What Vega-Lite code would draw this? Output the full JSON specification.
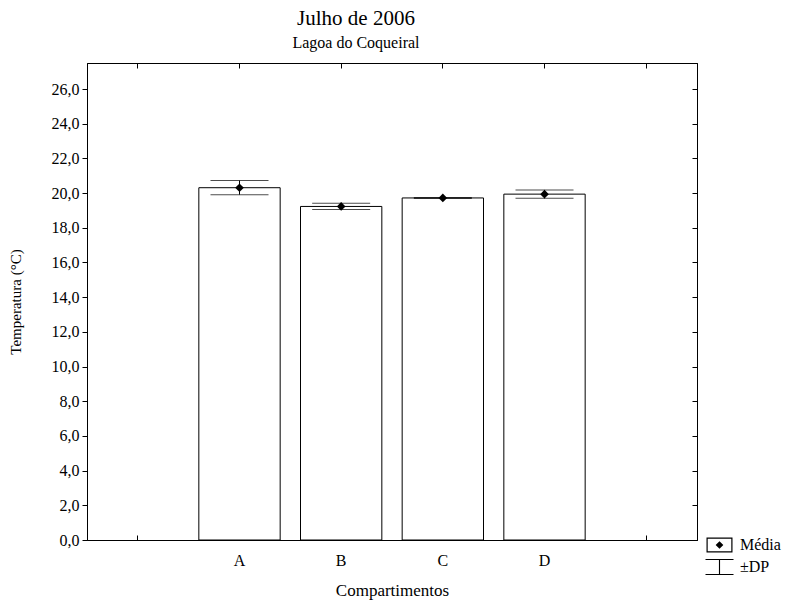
{
  "$schema": "https://vega.github.io/schema/vega-lite/v6.json",
  "width": 610,
  "height": 477,
  "autosize": {"type": "none"},
  "padding": {"left": 87, "top": 63, "right": 92, "bottom": 67},
  "background": "white",
  "config": {
    "font": "Liberation Serif",
    "view": {"stroke": "black", "strokeWidth": 1},
    "axis": {
      "grid": false,
      "domainColor": "black",
      "tickColor": "black",
      "labelColor": "black",
      "titleColor": "black",
      "labelFont": "Liberation Serif",
      "titleFont": "Liberation Serif",
      "labelFontSize": 16,
      "titleFontSize": 16,
      "titleFontWeight": "normal"
    }
  },
  "title": {
    "text": "Julho de 2006",
    "subtitle": "Lagoa do Coqueiral",
    "font": "Liberation Serif",
    "subtitleFont": "Liberation Serif",
    "fontSize": 21,
    "subtitleFontSize": 16,
    "fontWeight": "normal",
    "color": "black",
    "subtitleColor": "black",
    "anchor": "middle",
    "dx": -36,
    "offset": 12,
    "subtitlePadding": 6
  },
  "datasets": {
    "temperatura": [
      {"compartimento": "A", "media": 20.31, "inferior": 19.91, "superior": 20.72},
      {"compartimento": "B", "media": 19.23, "inferior": 19.05, "superior": 19.41},
      {"compartimento": "C", "media": 19.72, "inferior": 19.69, "superior": 19.75},
      {"compartimento": "D", "media": 19.94, "inferior": 19.70, "superior": 20.18}
    ],
    "legenda": [
      {"item": "Média"},
      {"item": "±DP"}
    ]
  },
  "resolve": {"axis": {"x": "independent", "y": "independent"}},
  "layer": [
    {
      "data": {"name": "temperatura"},
      "mark": {"type": "bar", "fill": "white", "stroke": "black", "strokeWidth": 1},
      "encoding": {
        "x": {
          "field": "compartimento",
          "type": "nominal",
          "scale": {"domain": ["v0", "A", "B", "C", "D", "v5"], "paddingInner": 0.2, "paddingOuter": 0.1},
          "axis": {
            "orient": "bottom",
            "title": "Compartimentos",
            "labelAngle": 0,
            "tickSize": -5,
            "labelPadding": 17,
            "titlePadding": 14,
            "titleFontSize": 17,
            "labelExpr": "indexof(['A','B','C','D'], datum.value) >= 0 ? datum.value : ''"
          }
        },
        "y": {
          "field": "media",
          "type": "quantitative",
          "scale": {"domain": [0, 27.5], "nice": false, "zero": true},
          "axis": {
            "orient": "left",
            "title": "Temperatura (°C)",
            "titleFontSize": 15,
            "values": [0, 2, 4, 6, 8, 10, 12, 14, 16, 18, 20, 22, 24, 26],
            "labelExpr": "replace(format(datum.value, '.1f'), '.', ',')",
            "tickSize": 5,
            "labelPadding": 3,
            "titlePadding": 28
          }
        }
      }
    },
    {
      "data": {"name": "temperatura"},
      "mark": {"type": "rule", "color": "black", "strokeWidth": 1},
      "encoding": {
        "x": {
          "field": "compartimento",
          "type": "nominal",
          "axis": {"orient": "top", "labels": false, "title": null, "tickSize": -5}
        },
        "y": {
          "field": "inferior",
          "type": "quantitative",
          "axis": {
            "orient": "right",
            "labels": false,
            "title": null,
            "tickSize": -5,
            "values": [0, 2, 4, 6, 8, 10, 12, 14, 16, 18, 20, 22, 24, 26]
          }
        },
        "y2": {"field": "superior"}
      }
    },
    {
      "data": {"name": "temperatura"},
      "mark": {"type": "tick", "color": "black", "size": 58, "thickness": 1},
      "encoding": {
        "x": {"field": "compartimento", "type": "nominal", "axis": null},
        "y": {"field": "inferior", "type": "quantitative", "axis": null}
      }
    },
    {
      "data": {"name": "temperatura"},
      "mark": {"type": "tick", "color": "black", "size": 58, "thickness": 1},
      "encoding": {
        "x": {"field": "compartimento", "type": "nominal", "axis": null},
        "y": {"field": "superior", "type": "quantitative", "axis": null}
      }
    },
    {
      "data": {"name": "temperatura"},
      "mark": {"type": "point", "shape": "diamond", "filled": true, "color": "black", "size": 75, "opacity": 1},
      "encoding": {
        "x": {"field": "compartimento", "type": "nominal", "axis": null},
        "y": {"field": "media", "type": "quantitative", "axis": null}
      }
    },
    {
      "data": {"name": "legenda"},
      "mark": {"type": "point", "filled": true, "color": "black", "opacity": 0},
      "encoding": {
        "shape": {
          "field": "item",
          "type": "nominal",
          "scale": {
            "domain": ["Média", "±DP"],
            "range": [
              "M-1.625,-0.94H1.625V0.94H-1.625Z M-1.475,-0.79V0.79H1.475V-0.79Z M0,-0.48L0.48,0L0,0.48L-0.48,0Z",
              "M-1.75,-1H1.75V-0.87H-1.75Z M-0.07,-0.87H0.07V0.87H-0.07Z M-1.75,0.87H1.75V1H-1.75Z"
            ]
          },
          "legend": {
            "orient": "none",
            "legendX": 624.5,
            "legendY": 474,
            "title": null,
            "padding": 0,
            "symbolSize": 256,
            "symbolFillColor": "black",
            "symbolStrokeWidth": 0,
            "symbolOpacity": 1,
            "labelFont": "Liberation Serif",
            "labelFontSize": 16,
            "labelColor": "black",
            "labelOffset": 12.5,
            "rowPadding": 6
          }
        }
      }
    }
  ]
}
